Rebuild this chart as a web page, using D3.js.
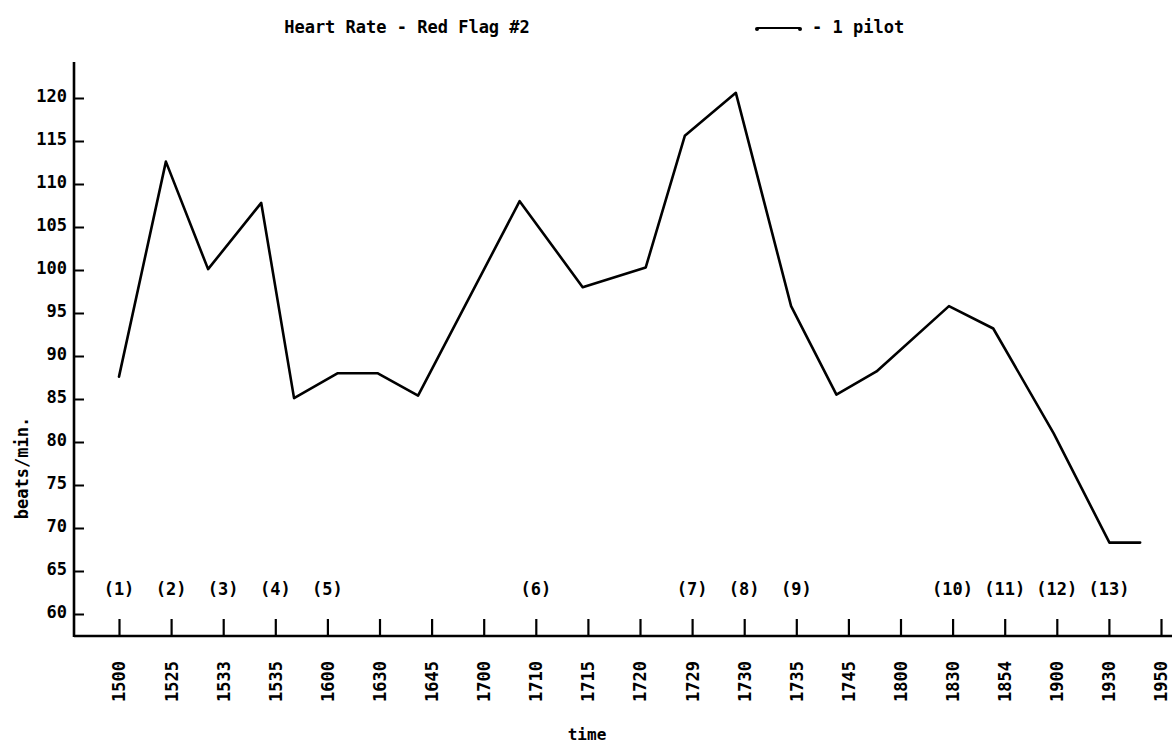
<!DOCTYPE html>
<html lang="en">
  <head>
    <meta charset="UTF-8" />
    <title>Heart Rate - Red Flag #2</title>
    <style>
      body { margin: 0; background: #fff; }
      svg { font-family: "DejaVu Sans Mono", monospace; font-weight: bold; }
    </style>
  </head>
  <body>
    <div id="chart"></div>
    <script src="https://d3js.org/d3.v7.min.js"></script>
    <script>
      // time ticks along the bottom (equally spaced, as typed on the sheet)
      const times = ["1500", "1525", "1533", "1535", "1600", "1630", "1645", "1700", "1710", "1715",
                     "1720", "1729", "1730", "1735", "1745", "1800", "1830", "1854", "1900", "1930", "1950"];
      const yTicks = [60, 65, 70, 75, 80, 85, 90, 95, 100, 105, 110, 115, 120];
      // numbered events and the tick they sit over
      const eventNames = ["(1)", "(2)", "(3)", "(4)", "(5)", "(6)", "(7)", "(8)", "(9)", "(10)", "(11)", "(12)", "(13)"];
      const eventTimes = ["1500", "1525", "1533", "1535", "1600", "1710", "1729", "1730", "1735", "1830", "1854", "1900", "1930"];
      // pilot trace: where each point falls, in tick units, and beats/min
      const pointPos = [0, 0.9, 1.71, 2.73, 3.36, 4.2, 4.96, 5.74, 7.69, 8.9, 10.11,
                        10.86, 11.84, 12.9, 13.77, 14.54, 15.93, 16.78, 17.94, 19.01, 19.6];
      const beats = [87.6, 112.6, 100.1, 107.8, 85.1, 88, 88, 85.4, 108, 98, 100.3,
                     115.6, 120.6, 95.8, 85.5, 88.2, 95.8, 93.2, 81, 68.3, 68.3];

      const width = 1172, height = 746;
      const axisX = 74, axisY = 636;

      const svg = d3.select("#chart").append("svg")
        .attr("width", width)
        .attr("height", height);

      const x = d3.scalePoint().domain(times).range([119, 1161]);
      const xPos = d3.scaleLinear().domain([0, times.length - 1]).range(x.range());
      const y = d3.scaleLinear().domain([60, 120]).range([614, 98]);

      // y axis
      const gy = svg.append("g")
        .attr("transform", `translate(${axisX},0)`)
        .call(d3.axisLeft(y).tickValues(yTicks).tickSize(-10).tickPadding(7))
        .attr("font-family", null)
        .attr("font-size", 17);
      gy.select(".domain").remove();
      gy.selectAll(".tick line").attr("stroke-width", 2);
      gy.selectAll(".tick text").attr("dy", "0.2em");

      // x axis, ticks pointing up, labels turned on their side
      const gx = svg.append("g")
        .attr("transform", `translate(0,${axisY})`)
        .call(d3.axisBottom(x).tickSize(-17))
        .attr("font-family", null)
        .attr("font-size", 17);
      gx.select(".domain").remove();
      gx.selectAll(".tick line").attr("stroke-width", 2.2);
      gx.selectAll(".tick text")
        .attr("transform", "rotate(-90)")
        .attr("text-anchor", "end")
        .attr("x", -25)
        .attr("y", 0)
        .attr("dy", "0.35em");

      svg.append("line")
        .attr("x1", axisX).attr("x2", axisX)
        .attr("y1", 62).attr("y2", axisY + 1)
        .attr("stroke", "#000").attr("stroke-width", 2.6);
      svg.append("line")
        .attr("x1", axisX).attr("x2", width)
        .attr("y1", axisY).attr("y2", axisY)
        .attr("stroke", "#000").attr("stroke-width", 2.6);

      // the trace
      const line = d3.line()
        .x((d, i) => xPos(pointPos[i]))
        .y(d => y(d));
      svg.append("path")
        .datum(beats)
        .attr("fill", "none")
        .attr("stroke", "#000")
        .attr("stroke-width", 2.6)
        .attr("stroke-linejoin", "round")
        .attr("stroke-linecap", "round")
        .attr("d", line);

      // event numbers
      svg.append("g")
        .attr("font-size", 17)
        .attr("text-anchor", "middle")
        .selectAll("text")
        .data(eventNames)
        .join("text")
        .attr("x", (d, i) => x(eventTimes[i]))
        .attr("y", 589)
        .attr("dy", "0.35em")
        .text(d => d);

      // title and key
      svg.append("text")
        .attr("x", 407).attr("y", 33)
        .attr("text-anchor", "middle")
        .attr("font-size", 17)
        .text("Heart Rate - Red Flag #2");

      const key = svg.append("g");
      key.append("line")
        .attr("x1", 757).attr("x2", 800)
        .attr("y1", 28).attr("y2", 28)
        .attr("stroke", "#000").attr("stroke-width", 2);
      key.selectAll("circle")
        .data([757, 800])
        .join("circle")
        .attr("cx", d => d).attr("cy", 29).attr("r", 2);
      key.append("text")
        .attr("x", 812).attr("y", 33)
        .attr("font-size", 17)
        .text("- 1 pilot");

      // axis titles
      svg.append("text")
        .attr("transform", "translate(22,468) rotate(-90)")
        .attr("text-anchor", "middle")
        .attr("dy", "0.35em")
        .attr("font-size", 17)
        .text("beats/min.");
      svg.append("text")
        .attr("x", 587).attr("y", 740)
        .attr("text-anchor", "middle")
        .attr("font-size", 16)
        .text("time");
    </script>
  </body>
</html>
